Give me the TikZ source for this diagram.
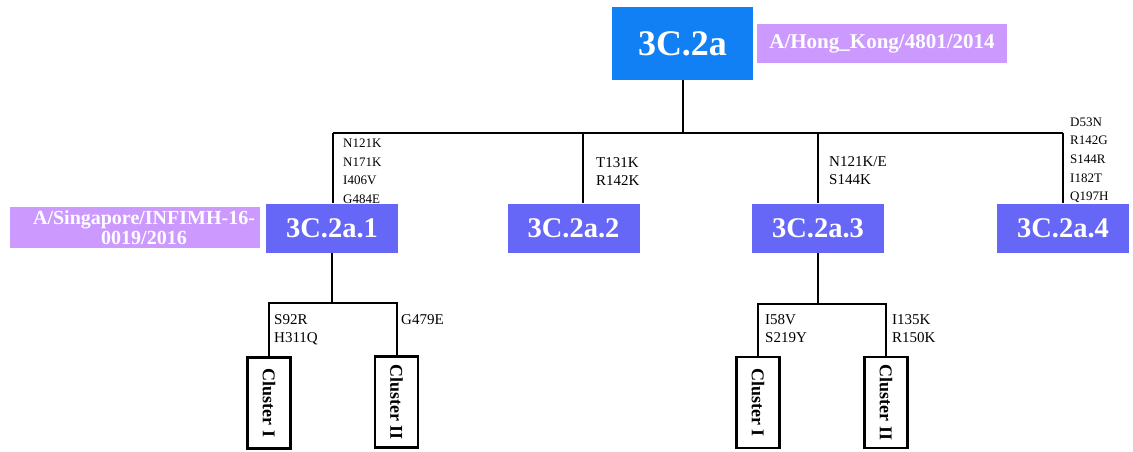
\documentclass[tikz,border=0pt]{standalone}
\usepackage{fontspec}
\setmainfont{Liberation Serif}
\definecolor{topblue}{RGB}{17,128,245}
\definecolor{midblue}{RGB}{102,102,247}
\definecolor{lav}{RGB}{204,153,255}
\begin{document}
\begin{tikzpicture}[x=1pt,y=-1pt,
  conn/.style={line width=2pt},
  topbox/.style={fill=topblue, text=white, font=\bfseries\fontsize{36}{36}\selectfont, minimum width=141pt, minimum height=73pt, inner sep=0},
  subbox/.style={fill=midblue, text=white, font=\bfseries\fontsize{28.5}{28.5}\selectfont, minimum width=132pt, minimum height=49pt, inner sep=0},
  strain/.style={fill=lav, inner sep=0},
  straintext/.style={text=white, font=\bfseries\fontsize{20}{20}\selectfont, align=center, inner sep=0},
  clusterbox/.style={draw=black, line width=2.2pt, fill=white, minimum width=43pt, minimum height=91pt, inner sep=0, font=\bfseries\fontsize{18}{18}\selectfont},
  mutsmall/.style={anchor=north west, inner sep=0, align=left, font=\fontsize{13}{18.6}\selectfont},
  mut/.style={anchor=north west, inner sep=0, align=left, font=\fontsize{15}{18}\selectfont}
]
\useasboundingbox (0,0) rectangle (1133,451);

% top level
\node[topbox] (root) at (682.5,43.5) {3C.2a};
\node[strain, minimum width=250pt, minimum height=39pt, text=white, font=\bfseries\fontsize{21}{21}\selectfont] (hk) at (882,43.5) {A/Hong\_Kong/4801/2014};

% second level
\node[subbox] (a1) at (332,228) {3C.2a.1};
\node[subbox] (a2) at (573.5,228) {3C.2a.2};
\node[subbox] (a3) at (818,228) {3C.2a.3};
\node[subbox] (a4) at (1063,228) {3C.2a.4};
\node[strain, minimum width=250pt, minimum height=41pt] (sg) at (135,227.5) {};
\node[straintext] (sgt) at ([xshift=9pt]sg.center) {A/Singapore/INFIMH-16-\\0019/2016};

% clusters
\node[clusterbox] (c1a) at (269,403) {\rotatebox{-90}{Cluster I}};
\node[clusterbox] (c1b) at (396.5,402) {\rotatebox{-90}{Cluster II}};
\node[clusterbox] (c3a) at (758,402.5) {\rotatebox{-90}{Cluster I}};
\node[clusterbox] (c3b) at (886,402.5) {\rotatebox{-90}{Cluster II}};

% connectors
\coordinate (hub) at (683,133);
\coordinate (j1) at (333,133);
\coordinate (j2) at (583,133);
\coordinate (j3) at (818,133);
\coordinate (j4) at (1063,133);
\draw[conn] (root.south) -- (root.south |- hub);
\draw[conn] (j1) -- (j4);
\draw[conn] (j1) -- (j1 |- a1.north);
\draw[conn] (j2) -- (j2 |- a2.north);
\draw[conn] (j3) -- (j3 |- a3.north);
\draw[conn] (j4) -- (j4 |- a4.north);

\coordinate (k1) at (333,303);
\coordinate (k3) at (818,304);
\draw[conn] (a1.south) -- (a1.south |- k1);
\draw[conn] (c1a.north) -- (c1a.north |- k1) -- (c1b.north |- k1) -- (c1b.north);
\draw[conn] (a3.south) -- (a3.south |- k3);
\draw[conn] (c3a.north) -- (c3a.north |- k3) -- (c3b.north |- k3) -- (c3b.north);

% mutation labels
\node[mutsmall] (m1) at (343,138.7) {N121K\\N171K\\I406V\\G484E};
\node[mut] (m2) at (596,157) {T131K\\R142K};
\node[mut] (m3) at (829,156) {N121K/E\\S144K};
\node[mutsmall] (m4) at (1070,117.4) {D53N\\R142G\\S144R\\I182T\\Q197H};
\node[mut] (m5) at (274,314) {S92R\\H311Q};
\node[mut] (m6) at (401,314) {G479E};
\node[mut] (m7) at (765,314) {I58V\\S219Y};
\node[mut] (m8) at (892,314) {I135K\\R150K};
\end{tikzpicture}
\end{document}
